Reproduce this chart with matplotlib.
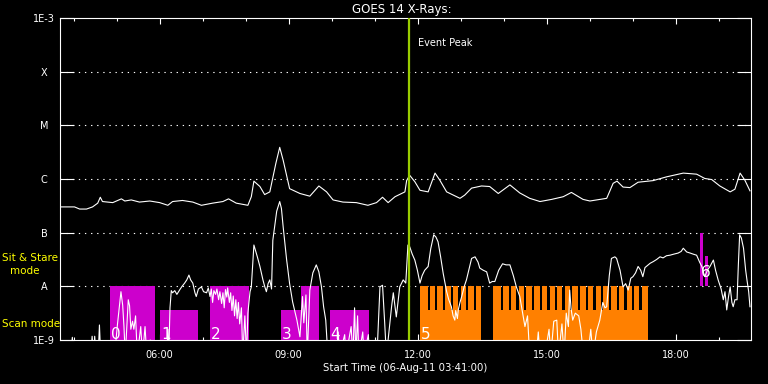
import matplotlib
matplotlib.use('Agg')
import matplotlib.pyplot as plt
import matplotlib.transforms as mtransforms
from matplotlib.ticker import FixedLocator, NullLocator

# ---------------- data (time in hours UT, 06-Aug-11; flux as log10 W/m^2) -------------
t_start = 3 + 41 / 60
t_end = 19.744
xtick_major = [6, 9, 12, 15, 18]
xtick_labels = ['06:00', '09:00', '12:00', '15:00', '18:00']
xtick_minor = [4, 5, 7, 8, 10, 11, 13, 14, 16, 17, 19]
ytick_levels = [-9, -8, -7, -6, -5, -4, -3]
ytick_labels = ['1E-9', 'A', 'B', 'C', 'M', 'X', '1E-3']
grid_levels = [-8, -7, -6, -5, -4]

long_t = [3.68, 4.02, 4.14, 4.30, 4.44, 4.56, 4.62, 4.67, 4.91, 5.11,
          5.19, 5.34, 5.53, 5.77, 6.00, 6.19, 6.30, 6.53, 6.77, 6.97,
          7.23, 7.47, 7.60, 7.78, 8.05, 8.13, 8.19, 8.33, 8.44, 8.56,
          8.70, 8.79, 8.87, 9.02, 9.26, 9.49, 9.70, 9.88, 10.03, 10.26,
          10.57, 10.84, 11.04, 11.18, 11.31, 11.47, 11.70, 11.74, 11.81, 11.93,
          12.05, 12.24, 12.40, 12.51, 12.67, 12.98, 13.09, 13.25, 13.48, 13.67,
          13.87, 14.14, 14.37, 14.60, 14.84, 15.11, 15.38, 15.57, 15.84, 16.00,
          16.39, 16.54, 16.63, 16.77, 16.93, 17.12, 17.47, 17.78, 18.17, 18.48,
          18.67, 18.83, 19.02, 19.26, 19.37, 19.49, 19.60, 19.72]
long_logf = [-6.52, -6.52, -6.56, -6.56, -6.52, -6.45, -6.34, -6.42, -6.44, -6.37,
             -6.41, -6.39, -6.43, -6.41, -6.44, -6.49, -6.42, -6.40, -6.43, -6.49,
             -6.45, -6.42, -6.37, -6.45, -6.49, -6.33, -6.04, -6.14, -6.29, -6.24,
             -5.71, -5.41, -5.65, -6.18, -6.27, -6.32, -6.13, -6.24, -6.39, -6.43,
             -6.44, -6.49, -6.44, -6.34, -6.44, -6.33, -6.24, -6.03, -5.93, -6.05,
             -6.21, -6.24, -5.89, -6.02, -6.24, -6.36, -6.30, -6.17, -6.13, -6.14,
             -6.27, -6.11, -6.26, -6.36, -6.42, -6.38, -6.33, -6.25, -6.38, -6.41,
             -6.36, -6.08, -6.04, -6.15, -6.16, -6.06, -6.03, -5.96, -5.89, -5.91,
             -5.99, -6.01, -6.13, -6.24, -6.19, -5.89, -6.02, -6.22]

short_t = [3.68, 3.93, 3.97, 4.00, 4.40, 4.43, 4.46, 4.49, 4.52, 4.57, 4.60, 4.63, 4.95,
           5.02, 5.10, 5.14, 5.17, 5.20, 5.27, 5.30, 5.33, 5.37, 5.40, 5.44, 5.48, 5.56, 5.60, 5.66, 5.70, 5.78, 5.88, 6.16,
           6.19, 6.21, 6.24, 6.27, 6.30, 6.35, 6.40, 6.47, 6.52, 6.58, 6.63, 6.68, 6.72, 6.77, 6.82, 6.85, 6.90, 6.97, 7.02, 7.09, 7.13,
           7.17, 7.20, 7.23, 7.26, 7.30, 7.33, 7.37, 7.40, 7.44, 7.47, 7.50, 7.53, 7.56, 7.58, 7.62, 7.65, 7.68, 7.71, 7.74, 7.77,
           7.80, 7.83, 7.86, 7.90, 7.93, 7.98, 8.02, 8.05, 8.10, 8.13, 8.19, 8.27, 8.33, 8.40, 8.44, 8.48, 8.52, 8.56, 8.60, 8.63,
           8.72, 8.79, 8.83, 8.87, 8.95, 9.02, 9.09, 9.19, 9.26, 9.32, 9.35, 9.40, 9.43, 9.49, 9.56, 9.64, 9.70, 9.76, 9.81, 9.86, 9.91,
           10.10, 10.15, 10.18, 10.30, 10.33, 10.45, 10.49, 10.53, 10.56, 10.60, 10.63, 10.72, 10.75, 10.85, 10.88, 11.05,
           11.12, 11.18, 11.23, 11.27, 11.39, 11.43, 11.50, 11.58, 11.66, 11.72, 11.77, 11.81, 11.87, 11.93, 11.99,
           12.05, 12.10, 12.16, 12.24, 12.30, 12.37, 12.42, 12.47, 12.53, 12.59, 12.67, 12.72, 12.78, 12.82, 12.86, 12.88,
           12.92, 12.94, 12.98, 13.02, 13.08, 13.13, 13.20, 13.25, 13.33, 13.40, 13.44, 13.52, 13.60, 13.67, 13.73, 13.79,
           13.88, 13.97, 14.05, 14.14, 14.22, 14.29, 14.37, 14.49, 14.55, 14.60, 14.75, 14.80, 14.84, 14.95, 15.05, 15.09,
           15.16, 15.23, 15.27, 15.35, 15.40, 15.45, 15.50, 15.53, 15.56, 15.60, 15.66, 15.74, 15.79, 15.85, 15.95, 16.02,
           16.07, 16.15, 16.23, 16.30, 16.35, 16.39, 16.45, 16.50, 16.58, 16.62, 16.70, 16.77, 16.83, 16.89, 16.95, 17.00,
           17.06, 17.12, 17.18, 17.23, 17.28, 17.31, 17.40, 17.47, 17.55, 17.63, 17.70, 17.78, 17.86, 17.95, 18.05, 18.12,
           18.17, 18.25, 18.33, 18.40, 18.48, 18.55, 18.60, 18.67, 18.73, 18.79, 18.87, 18.92, 18.98, 19.05, 19.10, 19.14,
           19.18, 19.22, 19.26, 19.30, 19.33, 19.37, 19.42, 19.45, 19.48, 19.52, 19.57, 19.62, 19.65, 19.69, 19.72]
short_logf = [-9.3, -9.3, -8.95, -9.3, -9.3, -8.93, -9.3, -8.93, -9.3, -9.3, -8.72, -9.3, -9.3,
              -8.70, -8.10, -8.35, -8.75, -9.3, -8.25, -8.36, -8.80, -8.65, -8.80, -8.55, -9.3, -8.75, -9.3, -8.75, -9.3, -9.0, -9.3, -9.3,
              -8.80, -9.3, -8.40, -8.08, -8.12, -8.08, -8.15, -8.06, -8.00, -7.94, -7.88, -7.79, -7.88, -7.94, -8.12, -8.19, -8.05, -8.01, -8.10, -8.12, -8.03,
              -8.19, -8.05, -8.30, -8.08, -8.15, -8.05, -8.25, -8.10, -8.32, -8.12, -8.40, -8.06, -8.20, -8.03, -8.30, -8.12, -8.45, -8.18, -8.55, -8.25,
              -8.60, -8.30, -8.70, -8.40, -9.3, -8.55, -9.3, -8.50, -8.10, -8.01, -7.23, -7.45, -7.63, -7.88, -8.00, -8.10, -7.95, -7.88, -8.05, -7.14,
              -6.60, -6.42, -6.55, -6.89, -7.50, -7.95, -8.29, -8.63, -8.94, -8.19, -8.68, -8.16, -9.3, -8.07, -7.75, -7.60, -7.73, -8.01, -8.38, -8.63, -9.3,
              -9.3, -8.85, -9.3, -8.90, -9.3, -8.75, -9.3, -8.40, -9.3, -8.55, -9.3, -8.85, -9.3, -8.90, -9.3, -9.3,
              -8.01, -7.98, -8.68, -9.3, -8.38, -8.12, -8.57, -8.01, -7.88, -7.94, -7.23, -7.26, -7.40, -7.51, -7.70,
              -7.94, -7.80, -7.70, -7.63, -7.30, -7.04, -7.08, -7.17, -7.45, -7.76, -8.10, -8.25, -8.38, -8.55, -8.63, -8.45,
              -8.60, -8.44, -8.30, -8.19, -8.00, -7.88, -7.65, -7.48, -7.45, -7.55, -7.66, -7.70, -7.73, -7.94, -7.91, -7.91,
              -7.70, -7.58, -7.60, -7.60, -7.80, -8.01, -8.19, -8.75, -8.55, -9.3, -9.3, -8.85, -9.3, -9.3, -8.80, -9.3,
              -8.65, -8.63, -9.3, -8.70, -9.3, -8.50, -8.75, -8.07, -8.40, -8.63, -8.50, -8.55, -8.80, -9.3, -9.3, -8.80,
              -9.3, -8.85, -8.63, -8.30, -8.40, -8.38, -7.80, -7.48, -7.45, -7.48, -7.70, -8.01, -7.95, -8.07, -7.85, -7.82,
              -7.75, -7.63, -7.70, -7.82, -7.65, -7.63, -7.57, -7.54, -7.50, -7.45, -7.47, -7.43, -7.42, -7.40, -7.38, -7.35,
              -7.29, -7.36, -7.38, -7.40, -7.42, -7.55, -7.63, -7.82, -7.70, -7.63, -7.51, -7.70, -7.88, -8.05, -8.25, -8.10,
              -8.44, -8.20, -8.01, -8.30, -8.38, -8.25, -8.25, -7.60, -7.04, -7.10, -7.29, -7.70, -7.88, -8.10, -8.38]

# observing-mode blocks (magenta)
mag_start = [4.84, 6.00, 7.16, 8.81, 9.28, 9.95, 18.56, 18.67]
mag_end = [5.88, 6.88, 8.07, 9.28, 9.70, 10.86, 18.63, 18.74]
mag_base = [-9.5, -9.5, -9.5, -9.5, -9.5, -9.5, -8.0, -8.0]
mag_top = [-8.0, -8.44, -8.0, -8.44, -8.0, -8.44, -7.0, -7.43]

# orange scan blocks with notches
orange_start = [12.05, 13.75]
orange_end = [13.48, 17.36]
orange_notch = [12.23, 12.40, 12.58, 12.76, 12.94, 13.12, 13.30,
                13.93, 14.11, 14.29, 14.47, 14.65, 14.83, 15.01, 15.18, 15.36, 15.54,
                15.72, 15.90, 16.08, 16.26, 16.44, 16.62, 16.80, 16.97, 17.15]
notch_width = 0.054
scan_level = -8.44
stare_level = -8.0

block_labels = ['0', '1', '2', '3', '4', '5', '6']
block_label_t = [4.86, 6.03, 7.18, 8.83, 9.97, 12.08, 18.58]
block_label_y = [0.004, 0.004, 0.004, 0.004, 0.004, 0.004, 0.196]

event_peak = 11.79

MAG = '#CC00CC'
ORANGE = '#FF8000'
GREEN = '#99CC00'
YELLOW = '#FFFF00'

# ---------------- figure ----------------
fig = plt.figure(figsize=(7.68, 3.84), dpi=100, facecolor='black')
ax = fig.add_axes([60 / 768, 44 / 384, 691 / 768, 322 / 384])
ax.set_facecolor('black')
ax.set_yscale('log')
ax.set_ylim(1e-9, 1e-3)
ax.set_xlim(t_start, t_end)

for lvl in grid_levels:
    ax.axhline(10 ** lvl, color='white', lw=0.8, linestyle=(0, (1.2, 4.3)), zorder=1)

for s, e, b, tp in zip(mag_start, mag_end, mag_base, mag_top):
    ax.bar(s, 10 ** tp - 10 ** b, width=e - s, bottom=10 ** b, align='edge',
           color=MAG, linewidth=0, zorder=2)

for s, e in zip(orange_start, orange_end):
    ax.bar(s, 10 ** scan_level - 10 ** -9.5, width=e - s, bottom=10 ** -9.5,
           align='edge', color=ORANGE, linewidth=0, zorder=2)
    notches = sorted(n for n in orange_notch if s < n < e)
    edges = [s] + [v for n in notches for v in (n, n + notch_width)] + [e]
    for a, b in zip(edges[0::2], edges[1::2]):
        ax.bar(a, 10 ** stare_level - 10 ** -9.5, width=b - a, bottom=10 ** -9.5,
               align='edge', color=ORANGE, linewidth=0, zorder=2)

ax.plot(long_t, [10 ** v for v in long_logf], color='white', lw=0.8, zorder=3)
ax.plot(short_t, [10 ** v for v in short_logf], color='white', lw=0.8, zorder=3)

ax.axvline(event_peak, color=GREEN, lw=1.6, zorder=4)

trans = mtransforms.blended_transform_factory(ax.transData, ax.transAxes)
for lab, t, y in zip(block_labels, block_label_t, block_label_y):
    ax.text(t, y, lab, transform=trans, color='white', fontsize=11,
            ha='left', va='baseline', zorder=5)

# axes styling
for sp in ax.spines.values():
    sp.set_color('white')
    sp.set_linewidth(0.8)

ax.yaxis.set_major_locator(FixedLocator([10 ** v for v in ytick_levels]))
ax.yaxis.set_minor_locator(NullLocator())
ax.set_yticklabels(ytick_labels)
ax.tick_params(axis='y', which='major', direction='in', length=10, width=0.8,
               color='white', labelcolor='white', labelsize=7, left=True,
               right=True, pad=11.5)
for lbl in ax.get_yticklabels():
    lbl.set_ha('center')

ax.xaxis.set_major_locator(FixedLocator(xtick_major))
ax.xaxis.set_minor_locator(FixedLocator(xtick_minor))
ax.set_xticklabels(xtick_labels)
ax.tick_params(axis='x', which='major', direction='in', length=4, width=0.8,
               color='white', labelcolor='white', labelsize=7, top=True,
               bottom=True, pad=7)
ax.tick_params(axis='x', which='minor', direction='in', length=2.4, width=0.8,
               color='white', top=True, bottom=True)

# texts
fig.text(402 / 768, 1 - 9.5 / 384, 'GOES 14 X-Rays:', ha='center', va='center',
         color='white', fontsize=8.5)
fig.text(405 / 768, 1 - 368 / 384, 'Start Time (06-Aug-11 03:41:00)', ha='center',
         va='center', color='white', fontsize=7.3)
fig.text(418 / 768, 1 - 43 / 384, 'Event Peak', ha='left', va='center',
         color='white', fontsize=7)
fig.text(2 / 768, 1 - 258 / 384, 'Sit & Stare', ha='left', va='center',
         color=YELLOW, fontsize=7.5)
fig.text(24.5 / 768, 1 - 271 / 384, 'mode', ha='center', va='center',
         color=YELLOW, fontsize=7.5)
fig.text(2 / 768, 1 - 324 / 384, 'Scan mode', ha='left', va='center',
         color=YELLOW, fontsize=7.5)

fig.savefig('out.png', dpi=100, facecolor='black')
